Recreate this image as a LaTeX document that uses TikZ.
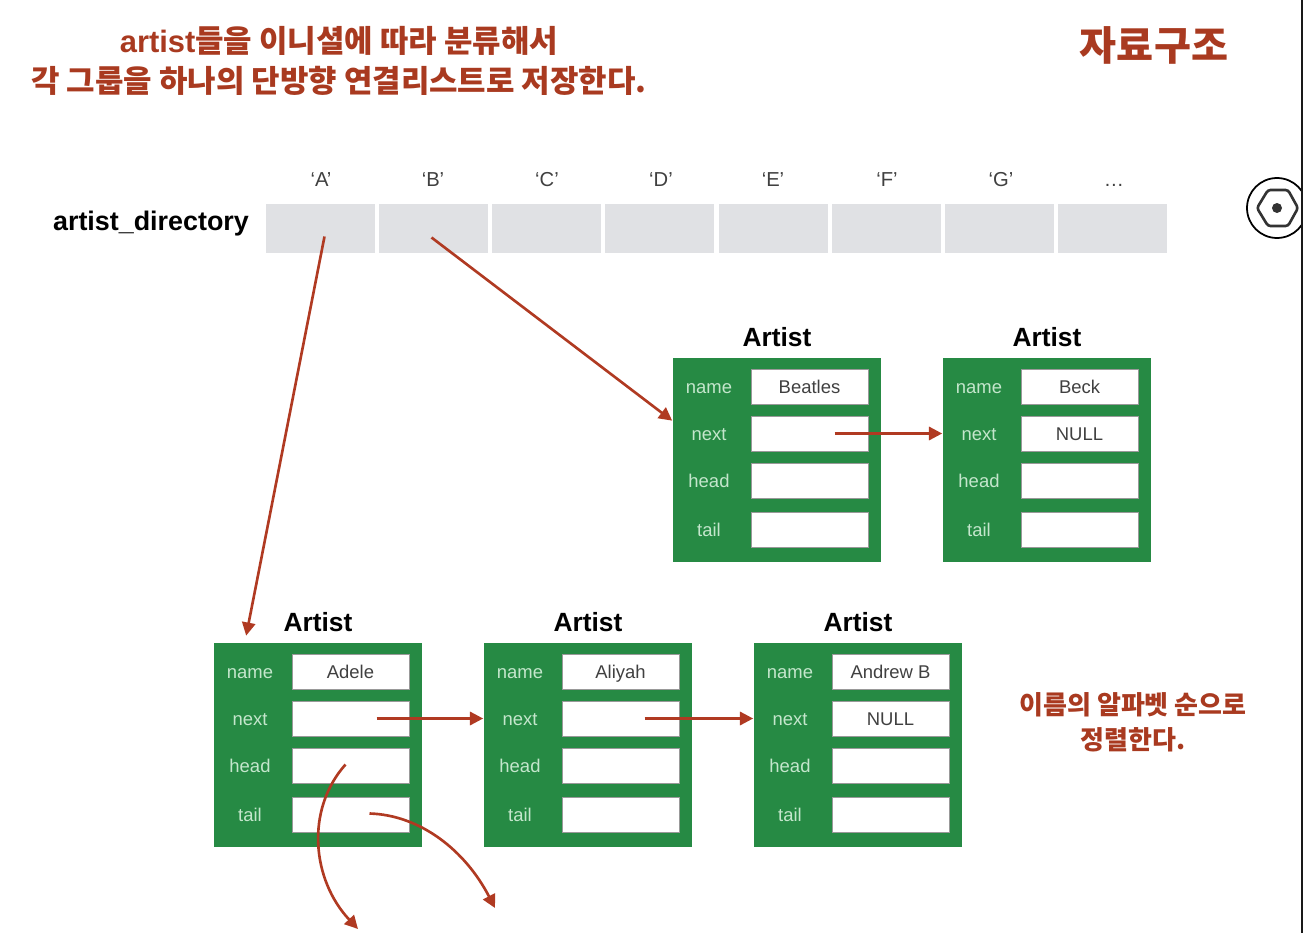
\documentclass[tikz,border=0pt]{standalone}
\usepackage{fontspec}
\setmainfont{Liberation Sans}
\newfontfamily\krfont{Noto Sans CJK KR}
\newfontfamily\latinfont{Liberation Sans}
\usetikzlibrary{arrows.meta}
\definecolor{titlered}{HTML}{A93A20}
\definecolor{linkred}{HTML}{B03A22}
\definecolor{boxgreen}{HTML}{268A44}
\definecolor{labelgreen}{HTML}{C4E6CC}
\definecolor{cellgrey}{HTML}{E0E1E4}
\tikzset{
  headline/.style={text=titlered, align=center, font=\fontsize{17.6}{22.8}\selectfont\bfseries\krfont},
  cell/.style={fill=cellgrey, minimum width=2.18cm, minimum height=0.98cm, inner sep=0},
  celllabel/.style={text=black!75, text height=8pt, text depth=1pt, font=\fontsize{11.5}{13}\selectfont},
  artistbox/.style={fill=boxgreen, minimum width=4.18cm, minimum height=4.08cm, inner sep=0},
  artisttitle/.style={font=\fontsize{15}{17}\selectfont\bfseries},
  fieldname/.style={text=labelgreen, text height=8.6pt, text depth=1.5pt, font=\fontsize{10.5}{12}\selectfont},
  field/.style={fill=white, draw=black!40, line width=0.4pt, text=black!75, text height=9.2pt, text depth=1pt, minimum width=2.34cm, minimum height=0.7cm, inner sep=0, font=\fontsize{10.5}{12}\selectfont},
  pointer/.style={draw=linkred, line width=1.5pt, -{Triangle[length=7.5pt,width=7.5pt]}},
}
% one Artist record, top left corner at #2
\newcommand{\artistrecord}[4]{
  \begin{scope}[shift={#2}]
    \node [artistbox] (#1) at (104,102) {};
    \node [artisttitle] (#1Title) at (104,-21) {Artist};
    \node [fieldname] (#1NameLabel) at (36,29) {name};
    \node [fieldname] (#1NextLabel) at (36,76) {next};
    \node [fieldname] (#1HeadLabel) at (36,123) {head};
    \node [fieldname] (#1TailLabel) at (36,172) {tail};
    \node [field] (#1Name) at (136.5,28.5) {#3};
    \node [field] (#1Next) at (136.5,75.5) {#4};
    \node [field] (#1Head) at (136.5,122.5) {};
    \node [field] (#1Tail) at (136.5,171.5) {};
  \end{scope}
}
\begin{document}
\begin{tikzpicture}[x=0.02cm, y=-0.02cm]
  \useasboundingbox (0,0) rectangle (1303,933);
  % Headings
  \node [headline] (summary) at (339,61) {{\latinfont\bfseries artist}들을 이니셜에 따라 분류해서\\각 그룹을 하나의 단방향 연결리스트로 저장한다.};
  \node [headline, font=\fontsize{22.9}{25}\selectfont\bfseries\krfont] (topic) at (1154,45) {자료구조};
  \node [headline, font=\fontsize{14.8}{20}\selectfont\bfseries\krfont] (sortnote) at (1133,722) {이름의 알파벳 순으로\\정렬한다.};
  % Directory array
  \node [font=\fontsize{15.3}{17}\selectfont\bfseries] (directory) at (151,224) {artist\_directory};
  \foreach \cellname/\cellx/\labelx/\celltext in {A/320.5/321/‘A’, B/433.5/433/‘B’, C/546.5/547/‘C’, D/659.5/661/‘D’, E/773.5/773/‘E’, F/886.5/887/‘F’, G/999.5/1001/‘G’, More/1112.5/1114/…} {
    \node [cell] (cell\cellname) at (\cellx,228.5) {};
    \node [celllabel] (label\cellname) at (\labelx,180) {\celltext};
  }
  % Records of B
  \artistrecord{beatles}{(673,358)}{Beatles}{}
  \artistrecord{beck}{(943,358)}{Beck}{NULL}
  % Records of A
  \artistrecord{adele}{(214,643)}{Adele}{}
  \artistrecord{aliyah}{(484,643)}{Aliyah}{}
  \artistrecord{andrew}{(754,643)}{Andrew B}{NULL}
  % Links
  \draw [pointer] ([shift={(4,8)}]cellA.center) -- ([shift={(33,-7)}]adele.north west);
  \draw [pointer] ([shift={(-2,9)}]cellB.center) -- ([shift={(0,63)}]beatles.north west);
  \draw [pointer] ([xshift=25*0.02cm]beatlesNext.center) -- (beck.west |- beatlesNext.center);
  \draw [pointer] ([xshift=26*0.02cm]adeleNext.center) -- (aliyah.west |- adeleNext.center);
  \draw [pointer] ([xshift=24*0.02cm]aliyahNext.center) -- (andrew.west |- aliyahNext.center);
  % Open ends below Adele
  \coordinate (headend) at (358,929);
  \coordinate (tailend) at (495,908);
  \draw [pointer] ([shift={(-5,-1)}]adeleHead.center) .. controls (305,810) and (312,880) .. (headend);
  \draw [pointer] ([shift={(19,-1)}]adeleTail.center) .. controls (420,815) and (465,850) .. (tailend);
  % Player button at the right edge
  \begin{scope}
    \clip (1240,170) rectangle (1301,250);
    \node [circle, draw=black, line width=1pt, minimum size=1.2cm, inner sep=0] (button) at (1277,208) {};
    \draw [line width=1.5pt, black!80, rounded corners=1.5pt] (1257,208) -- (1268,190) -- (1288,190) -- (1298,208) -- (1288,226) -- (1268,226) -- cycle;
    \node [circle, fill=black!80, minimum size=0.2cm, inner sep=0] (buttondot) at (button.center) {};
  \end{scope}
  \draw [line width=1.1pt, black!90] (1302,0) -- (1302,933);
\end{tikzpicture}
\end{document}
